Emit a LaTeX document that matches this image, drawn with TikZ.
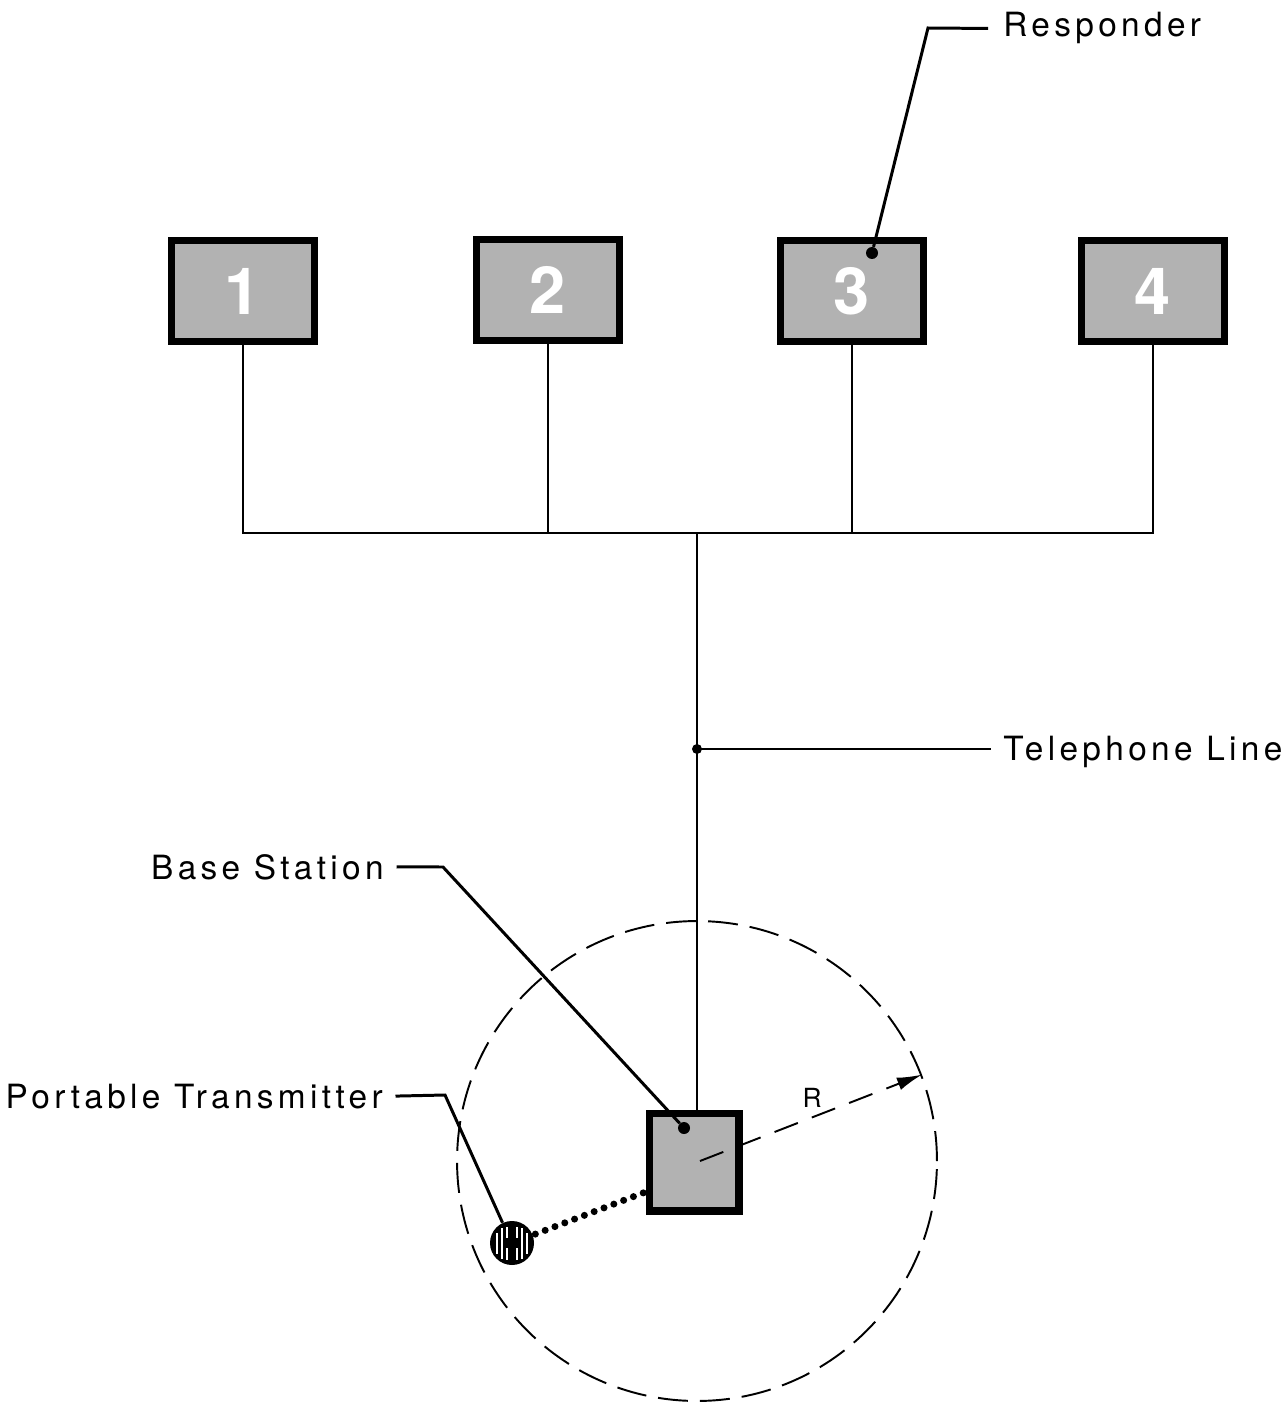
\documentclass[tikz,border=0pt]{standalone}
\usepackage{fontspec}
\setmainfont{TeX Gyre Heros}[LetterSpace=13]
\usepackage{tikz}
\usetikzlibrary{arrows.meta, positioning, calc}

\begin{document}
\begin{tikzpicture}[
  x=0.02cm, y=-0.02cm,
  responder/.style={draw, line width=4pt, fill=black!30, text=white,
    minimum width=2.86cm, minimum height=2.02cm, inner sep=0pt,
    font=\fontsize{37}{37}\selectfont\bfseries},
  station/.style={draw, line width=4pt, fill=black!30,
    minimum width=1.8cm, minimum height=1.96cm, inner sep=0pt},
  wire/.style={line width=1.2pt},
  lead/.style={line width=1.7pt},
  label/.style={font=\fontsize{19}{21}\selectfont, inner sep=0pt},
  blob/.style={circle, fill, inner sep=0pt, minimum size=0.24cm},
  stripe/.style={white, line width=1.6pt}
]
\useasboundingbox (0,0) rectangle (1283,1405);

% responders
\node[responder] (r1) at (243,291) {1};
\node[responder] (r2) at (548,290) {2};
\node[responder] (r3) at (852,291) {3};
\node[responder] (r4) at (1153,291) {4};

% base station and its range
\node[station] (bs) at (694,1162) {};
\node[draw, dashed, dash pattern=on 0.6cm off 0.24cm, line width=1.1pt,
  circle, minimum size=9.6cm, inner sep=0pt] (range) at (697,1161) {};

% telephone line
\coordinate (bus) at (697,533);
\coordinate (tj) at (697,749);
\draw[wire] (r1.south) -- (r1.south |- bus) -| (r4.south);
\draw[wire] (r2.south) -- (r2.south |- bus);
\draw[wire] (r3.south) -- (r3.south |- bus);
\draw[wire] (bus) -- (bus |- bs.north);
\fill (tj) circle (5);

% portable transmitter
\node[circle, fill=black, minimum size=0.88cm, inner sep=0pt] (tx) at (512,1243) {};
\draw[stripe] (497,1233) -- (497,1254);
\draw[stripe] (502,1228) -- (502,1259);
\draw[stripe] (507,1227) -- (507,1238);
\draw[stripe] (507,1248) -- (507,1260);
\draw[stripe] (517,1227) -- (517,1238);
\draw[stripe] (517,1248) -- (517,1260);
\draw[stripe] (522,1228) -- (522,1259);
\draw[stripe] (527,1233) -- (527,1254);
\draw[line width=4pt, dash pattern=on 0pt off 0.21cm, line cap=round,
  shorten <=0.5cm] (tx.center) -- ([yshift=-0.6cm]bs.west);

% range R
\coordinate (rc) at (700,1161);
\draw[dashed, dash pattern=on 0.5cm off 0.3cm, line width=1.1pt,
  -{Latex[length=5mm, width=2.6mm]}] (rc) -- (range.21.5);
\node[font=\fontsize{15}{15}\selectfont] (rlab) at (812,1098) {R};

% labels
\node[label, anchor=base west] (resp) at (1003,37) {Responder};
\node[label, anchor=base west] (tel) at (1003,760) {Telephone Line};
\node[label, anchor=base east] (bsl) at (384,879) {Base Station};
\node[label, anchor=base east] (txl) at (383,1108) {Portable Transmitter};

\node[blob] (d3) at (872,253) {};
\node[blob] (dbs) at (684,1128) {};

\draw[lead] ([xshift=-0.3cm]resp.west) -- (928,28) -- (d3);
\draw[lead] (tj) -- ([xshift=-0.25cm]tj -| tel.west);
\draw[lead] ([xshift=0.25cm]bsl.east) -- (443,867) -- (dbs);
\draw[lead] ([xshift=0.25cm]txl.east) -- (445,1095) -- (tx.115);
\end{tikzpicture}
\end{document}
